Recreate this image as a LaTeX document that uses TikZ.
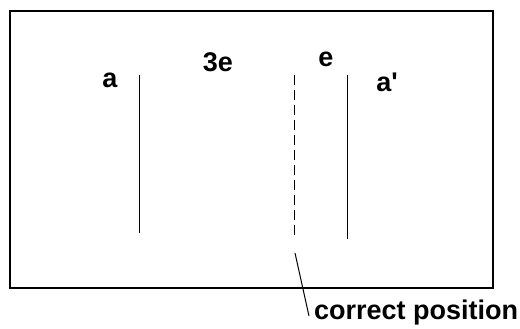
\documentclass[tikz,border=0pt]{standalone}
\usepackage{fontspec}
\setmainfont{Liberation Sans}
\usepackage{tikz}

\tikzset{
    lbl/.style={font=\fontsize{27}{27}\selectfont\bfseries, inner sep=0pt},
    plate/.style={black, line width=1pt}
}

\begin{document}
\begin{tikzpicture}[x=1pt, y=-1pt]
            \useasboundingbox (0,0) rectangle (520,329);

            %% frame
            \draw[black, line width=1.3pt] (10,11) rectangle (493,288);

            %% plates
            \draw[plate] (139,75) -- (139,233);
            \draw[plate, dash pattern=on 10pt off 5pt] (294,75) -- (294,235);
            \draw[plate] (347,75) -- (347,239);

            \node[lbl] (a)   at (110,80) {a};
            \node[lbl] (tre) at (218,62) {3e};
            \node[lbl] (e)   at (326,59) {e};
            \node[lbl] (ap)  at (387,82) {a\textquotesingle};

            %% leader
            \coordinate (lead) at (295,253);
            \coordinate (tip)  at (309,316);
            \node[lbl, anchor=west] (pos) at (314,313) {correct position};
            \draw[plate] (lead) -- (tip);
        \end{tikzpicture}
\end{document}
